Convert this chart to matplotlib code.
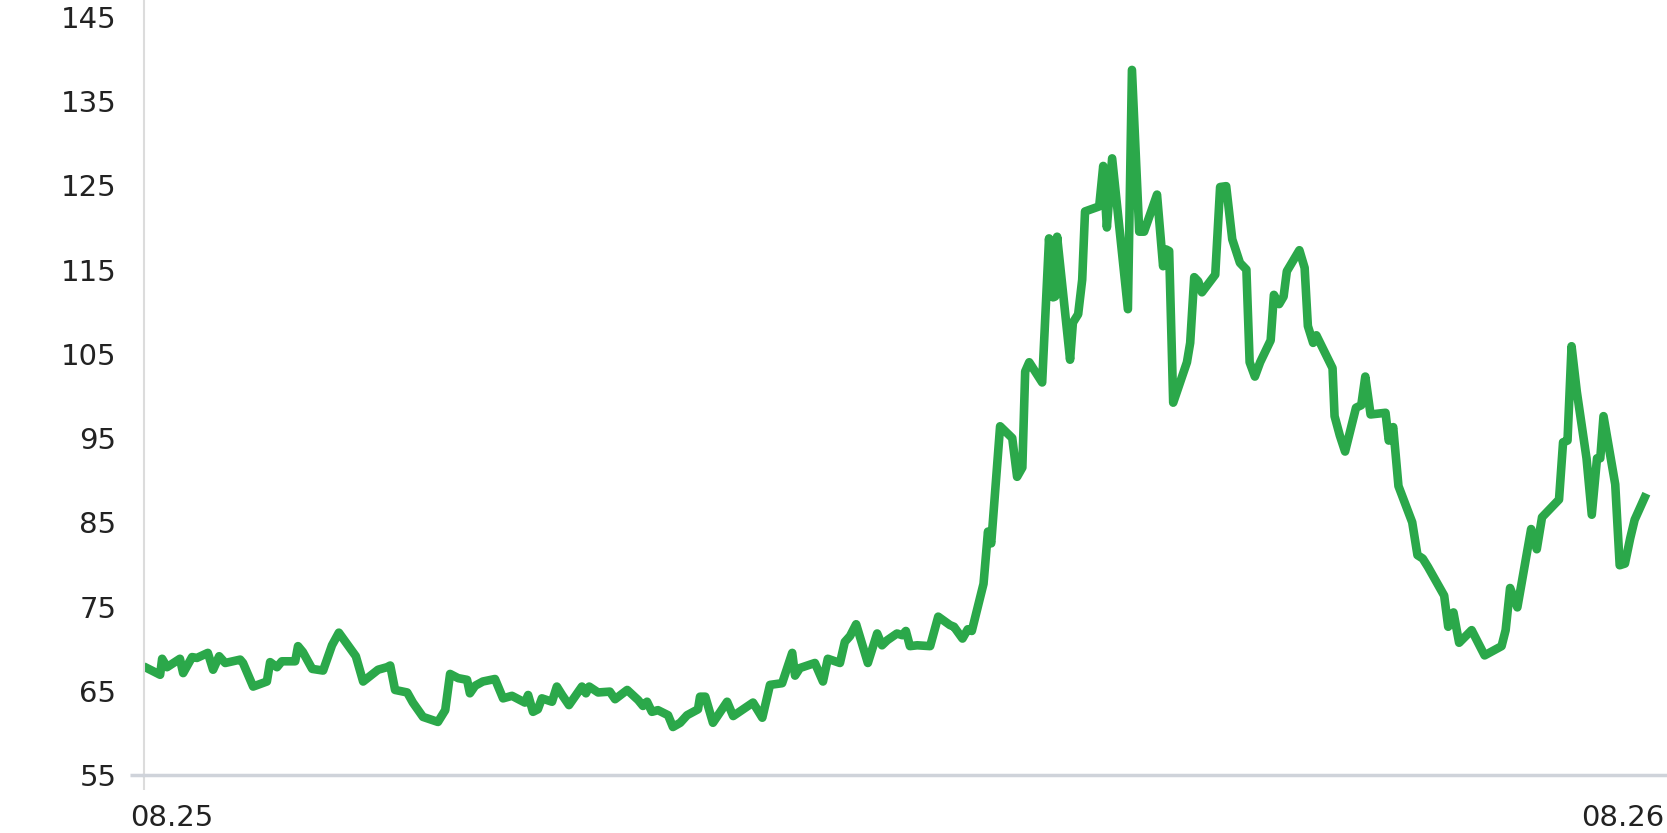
import matplotlib
matplotlib.use("Agg")
import matplotlib.pyplot as plt
import matplotlib.transforms as mtransforms

# days since the 08.25 tick, and index value
days = [0, 4.1, 4.6, 5.8, 9.0, 9.8, 12.0, 13.2, 15.9, 17.2, 18.7, 20.2, 23.9, 24.6,
        27.1, 30.5, 31.3, 33.0, 34.2, 37.5, 38.2, 39.4, 41.7, 44.4, 46.6, 48.3,
        52.5, 54.3, 58.0, 60.2, 61.0, 62.2, 65.2, 66.6, 69.1, 72.8, 74.6, 75.8,
        77.8, 80.0, 80.7, 82.0, 83.9, 86.9, 88.9, 91.1, 94.3, 95.1, 96.3, 97.5,
        98.5, 101.0, 102.2, 103.5, 105.2, 108.4, 109.4, 110.2, 112.4, 115.3,
        116.6, 119.6, 122.3, 123.5, 124.5, 125.7, 127.2, 129.7, 130.9, 132.7,
        134.4, 137.1, 137.6, 138.9, 140.8, 144.3, 145.8, 150.7, 153.0, 154.9,
        157.9, 160.4, 161.1, 162.3, 166.0, 168.0, 169.2, 172.2, 173.4, 174.7,
        176.2, 179.1, 181.4, 182.6, 183.9, 186.3, 187.6, 188.5, 189.5, 191.3,
        194.5, 196.5, 199.4, 200.4, 202.5, 203.8, 204.8, 207.7, 208.8, 209.6,
        211.8, 214.8, 216.0, 217.3, 218.0, 219.0, 222.2, 223.9, 224.9, 225.4,
        225.9, 229.1, 229.8, 231.1, 232.1, 232.8, 236.3, 237.3, 238.2, 239.5,
        243.4, 244.4, 246.2, 247.4, 250.6, 252.1, 252.8, 253.6, 254.6, 258.0,
        258.8, 259.8, 260.8, 261.7, 265.0, 266.2, 267.7, 269.2, 271.1, 272.7,
        273.5, 274.8, 276.1, 278.7, 279.5, 280.8, 281.9, 282.7, 285.8, 287.1,
        287.9, 289.2, 290.0, 294.0, 294.5, 295.8, 297.1, 299.8, 301.1, 302.1,
        303.4, 307.1, 307.9, 309.0, 310.3, 313.7, 315.0, 316.3, 317.6, 321.6,
        322.6, 323.9, 325.3, 328.4, 331.6, 335.8, 336.8, 337.9, 339.7, 343.1,
        344.5, 345.8, 350.0, 351.0, 352.1, 353.1, 354.4, 356.8, 358.1, 359.4,
        360.2, 361.0, 363.9, 365.0, 366.3, 367.6, 368.7, 371.6]

values = [67.9, 66.9, 68.8, 67.8, 68.8, 67.1, 69.0, 68.9, 69.5, 67.5, 69.1, 68.3, 68.7, 68.3,
          65.5, 66.1, 68.4, 67.8, 68.5, 68.5, 70.3, 69.6, 67.6, 67.4, 70.4, 71.9,
          69.1, 66.1, 67.5, 67.8, 68.0, 65.1, 64.8, 63.6, 61.9, 61.3, 62.7, 67.0,
          66.5, 66.3, 64.7, 65.6, 66.1, 66.4, 64.1, 64.4, 63.6, 64.5, 62.5, 62.8,
          64.1, 63.7, 65.5, 64.5, 63.3, 65.5, 64.7, 65.5, 64.8, 64.9,
          64.0, 65.1, 63.9, 63.2, 63.7, 62.5, 62.7, 62.1, 60.7, 61.2,
          62.1, 62.8, 64.3, 64.3, 61.2, 63.7, 62.0, 63.6, 61.8, 65.7,
          65.9, 69.5, 66.8, 67.7, 68.3, 66.1, 68.8, 68.3, 70.8, 71.5,
          72.9, 68.3, 71.8, 70.4, 71.0, 71.8, 71.6, 72.1, 70.3, 70.4,
          70.3, 73.8, 72.8, 72.6, 71.2, 72.3, 72.1, 77.7, 83.9, 82.5,
          96.4, 95.0, 90.4, 91.5, 102.9, 104.0, 101.6, 118.7, 111.7, 111.8,
          118.9, 104.3, 108.7, 109.7, 113.8, 121.9, 122.5, 127.3, 120.0, 128.2,
          110.3, 138.7, 119.5, 119.5, 123.9, 115.4, 117.4, 117.2, 99.2, 104.0,
          106.3, 114.1, 113.6, 112.3, 114.4, 124.8, 124.9, 118.6, 115.8, 115.0,
          104.0, 102.3, 104.0, 106.6, 112.0, 110.9, 111.8, 114.8, 117.3, 115.2,
          108.3, 106.3, 107.2, 103.3, 97.6, 95.3, 93.4, 98.6, 98.9, 102.3,
          97.8, 98.0, 94.7, 96.3, 89.3, 85.0, 81.1, 80.7, 79.7, 76.3,
          72.6, 74.3, 70.7, 72.2, 69.2, 70.3, 72.2, 77.2, 74.9, 84.2,
          81.8, 85.6, 87.7, 94.5, 94.7, 105.9, 100.5, 92.6, 85.9, 92.6,
          92.6, 97.6, 89.5, 79.9, 80.1, 83.1, 85.3, 88.4]

y_ticks = [55, 65, 75, 85, 95, 105, 115, 125, 135, 145]
x_tick_labels = ["08.25", "08.26"]
x_end = 376.7

fig = plt.figure(figsize=(16.67, 8.33), dpi=100)
ax = fig.add_axes([0.0861, 0.0696, 1 - 0.0861, 1 - 0.0696])

ax.plot(days, values, color="#2ba84a", linewidth=6.2, solid_joinstyle="round",
        solid_capstyle="butt")

ax.set_xlim(0, x_end)
ax.set_ylim(55, 147.0)

for side in ["top", "right"]:
    ax.spines[side].set_visible(False)
ax.spines["left"].set_color("#dcdcdc")
ax.spines["left"].set_linewidth(1.5)
ax.spines["bottom"].set_color("#cfd3da")
ax.spines["bottom"].set_linewidth(2.5)

ax.set_yticks(y_ticks)
ax.set_yticklabels([str(v) for v in y_ticks])
ax.tick_params(axis="y", length=10, width=2.5, color="#cfd3da", pad=9.5,
               labelsize=21, labelcolor="#222222")
for t in ax.yaxis.get_major_ticks()[1:]:
    t.tick1line.set_visible(False)

ax.set_xticks([0, x_end])
ax.set_xticklabels(x_tick_labels)
ax.tick_params(axis="x", length=11, width=1.5, color="#dcdcdc", pad=10,
               labelsize=21, labelcolor="#222222")
ax.xaxis.get_major_ticks()[1].tick1line.set_visible(False)
xl = ax.get_xticklabels()
xl[0].set_horizontalalignment("left")
xl[0].set_transform(xl[0].get_transform() +
                    mtransforms.ScaledTranslation(-13 / 100, 0, fig.dpi_scale_trans))
xl[1].set_horizontalalignment("right")
xl[1].set_transform(xl[1].get_transform() +
                    mtransforms.ScaledTranslation(-3 / 100, 0, fig.dpi_scale_trans))

fig.savefig("out.png", dpi=100)
